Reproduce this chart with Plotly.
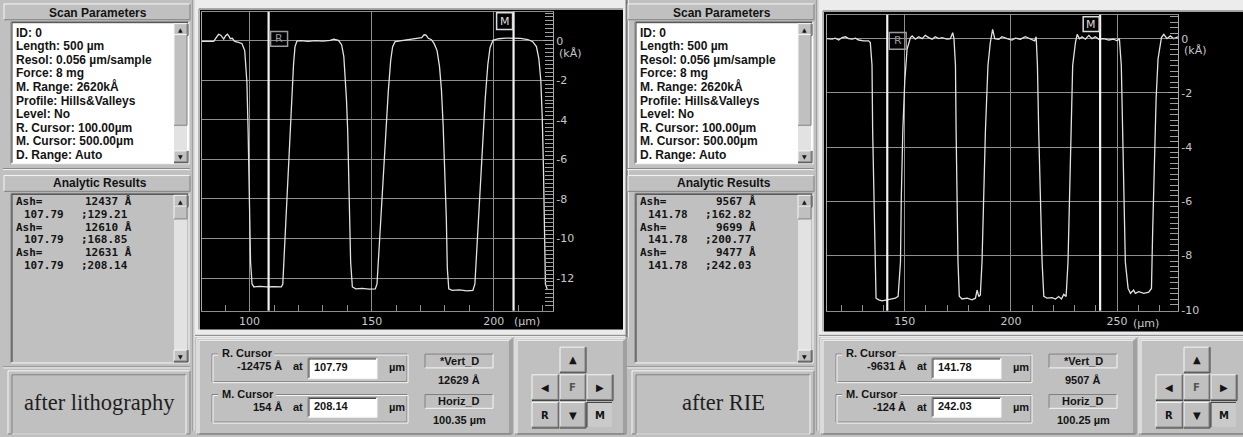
import plotly.graph_objects as go

W, H = 1243, 437

# ------------------------------------------------------------------ data
# profile after lithography (x in um, height in kA)
P1_X = [80.5, 83.0, 85.3, 86.3, 87.3, 88.2, 89.4, 90.2, 90.9, 91.6, 92.1, 92.9, 93.9, 95.5, 96.9,
        98.0, 98.9, 99.4, 99.9, 100.4, 101.0, 101.8, 104.0, 107.0, 110.0, 113.0,
        113.6, 114.4, 115.3, 116.3, 117.2, 118.0, 118.6, 119.4, 121.0, 124.0, 127.0, 130.0, 133.0,
        134.5, 136.4, 137.7, 138.6, 139.2, 139.7, 140.2, 140.9, 141.4, 142.1, 143.5, 146.0, 149.0,
        151.5, 152.2, 153.2, 154.4, 155.6, 156.8, 157.8, 158.6, 159.6, 162.0, 165.0, 168.0, 170.5,
        171.5, 172.3, 173.2, 174.5, 175.6, 176.8, 177.8, 178.6, 179.3, 180.0, 180.6, 181.0, 181.6,
        183.0, 186.0, 189.0, 191.5, 192.3, 193.2, 194.3, 195.4, 196.5, 197.6, 198.5, 199.7, 202.0,
        205.0, 208.0, 211.0, 214.0, 216.0, 217.5, 218.5, 219.3, 219.9, 220.4, 220.8, 221.2, 222.0]
P1_Y = [-0.03, -0.02, -0.03, 0.15, 0.32, 0.28, 0.08, 0.25, 0.33, 0.22, 0.10, 0.12, -0.03, -0.08, -0.15,
        -0.5, -2.1, -4.6, -7.9, -11.2, -12.3, -12.45, -12.42, -12.45, -12.43, -12.45,
        -12.3, -10.5, -8.0, -5.5, -3.0, -1.2, -0.3, -0.02, 0.0, -0.03, 0.0, -0.02, 0.02,
        0.08, 0.02, -0.2, -0.8, -1.8, -3.0, -4.6, -7.9, -11.2, -12.45, -12.55, -12.52, -12.56,
        -12.55, -12.3, -10.2, -7.6, -5.0, -2.6, -1.0, -0.3, -0.05, 0.0, 0.05, 0.10, 0.15,
        0.30, 0.28, 0.12, 0.05, -0.15, -0.5, -1.3, -2.5, -4.3, -6.5, -9.0, -11.5, -12.55,
        -12.62, -12.6, -12.65, -12.62, -12.3, -10.3, -7.8, -5.3, -3.0, -1.2, -0.35, 0.02, 0.10,
        0.13, 0.14, 0.12, 0.06, -0.05, -0.3, -0.9, -2.0, -3.9, -6.5, -9.5, -12.3, -12.6]

# profile after RIE
P2_X = [113.4, 115.8, 117.3, 118.9, 120.5, 122.1, 123.6, 125.2, 126.8, 128.3, 130.7, 133.0, 133.8,
        134.6, 134.9, 135.4, 135.9, 136.5, 137.8, 139.3, 141.7, 144.0, 145.6, 146.9,
        148.0, 148.4, 149.1, 150.0, 151.1, 152.7, 153.5, 155.0, 156.6, 158.2, 159.7, 161.3, 162.9,
        164.4, 166.0, 167.6, 169.9, 171.5, 172.6, 173.2,
        173.9, 174.2, 174.6, 175.1, 175.7, 177.0, 179.4, 181.7, 183.3, 184.1, 184.9, 185.6,
        186.4, 187.2, 188.0, 189.2, 190.3, 191.4, 192.4, 194.3, 195.8, 198.2, 200.5, 202.1, 204.5,
        206.8, 209.2, 211.2, 211.9,
        212.5, 213.1, 213.9, 214.7, 215.5, 217.0, 219.4, 221.0, 222.5, 223.8, 224.9, 226.0,
        226.9, 227.6, 228.2, 229.1, 230.4, 231.2, 232.3, 233.5, 235.1, 236.7, 238.2, 239.8, 241.4,
        243.7, 246.1, 248.4, 250.0, 251.1,
        252.0, 252.7, 253.3, 253.9, 255.2, 256.3, 257.8, 258.6, 260.2, 262.6, 264.9, 266.2,
        266.8, 267.7, 268.4, 269.3, 270.9, 272.0, 273.5, 275.1, 276.7, 278.7]
P2_Y = [0.0, -0.02, 0.02, -0.05, 0.04, 0.07, 0.0, -0.02, 0.02, -0.05, -0.08, -0.08, -0.14,
        -0.99, -3.4, -5.8, -8.2, -9.57, -9.63, -9.67, -9.63, -9.6, -9.57, -9.5,
        -8.24, -5.82, -3.41, -1.6, -0.39, 0.04, 0.10, -0.02, 0.07, 0.0, 0.12, 0.04, -0.02,
        0.07, 0.0, 0.04, -0.02, 0.0, 0.22, 0.0,
        -0.99, -3.4, -5.8, -8.24, -9.5, -9.6, -9.57, -9.63, -9.57, -9.27, -9.51, -9.45,
        -8.24, -5.82, -3.41, -0.99, -0.15, 0.34, 0.0, -0.02, 0.07, 0.0, -0.05, 0.02, -0.02,
        0.07, 0.0, -0.08, 0.07,
        -0.99, -3.41, -5.82, -8.24, -9.5, -9.57, -9.55, -9.6, -9.51, -9.6, -9.43, -9.51,
        -8.24, -5.82, -3.41, -0.99, -0.15, 0.16, 0.0, 0.07, -0.02, 0.12, 0.0, 0.07, -0.02,
        0.0, -0.05, -0.02, -0.08, 0.0,
        -0.99, -3.41, -5.82, -8.24, -9.21, -9.39, -9.27, -9.39, -9.33, -9.39, -9.35, -9.21,
        -7.0, -4.6, -2.2, -0.75, 0.04, 0.16, 0.0, 0.10, 0.0, 0.07]

CURSOR_R = [107.79, 141.78]
CURSOR_M = [208.14, 242.03]
X_TICKS = [[100, 150, 200], [150, 200, 250]]
Y_TICKS = [[0, -2, -4, -6, -8, -10, -12], [0, -2, -4, -6, -8, -10]]
X_RANGE = [[80.5, 224.3], [113.4, 278.7]]
Y_RANGE = [[-13.65, 1.46], [-10.03, 0.88]]

SCAN_PARAMS = ["ID: 0", "Length: 500 µm", "Resol: 0.056 µm/sample", "Force: 8 mg",
               "M. Range: 2620kÅ", "Profile: Hills&amp;Valleys", "Level: No",
               "R. Cursor: 100.00µm", "M. Cursor: 500.00µm", "D. Range: Auto"]
ASH = [["12437 Å", "12610 Å", "12631 Å"], ["9567 Å", "9699 Å", "9477 Å"]]
ASH_FROM = [["107.79", "107.79", "107.79"], ["141.78", "141.78", "141.78"]]
ASH_TO = [[";129.21", ";168.85", ";208.14"], [";162.82", ";200.77", ";242.03"]]
R_VAL = ["-12475 Å", "-9631 Å"]
M_VAL = ["154 Å", "-124 Å"]
VERT_D = ["12629 Å", "9507 Å"]
HORIZ_D = ["100.35 µm", "100.25 µm"]
CAPTION = ["after lithography", "after RIE"]

# ------------------------------------------------------------------ helpers
FACE = '#c0c0c0'
LIGHT = '#f6f6f6'
DARK = '#808080'
DARKER = '#3c3c3c'
GRID = '#8e8e8e'
TICKTXT = '#c8c8c8'

shapes, annots = [], []


def X(p):
    return p / W


def Y(p):
    return 1 - p / H


def rect(x0, y0, x1, y1, fill, line=None, lw=1, layer='above'):
    shapes.append(dict(type='rect', xref='paper', yref='paper', x0=X(x0), x1=X(x1),
                       y0=Y(y1), y1=Y(y0), fillcolor=fill, layer=layer,
                       line=dict(width=lw if line else 0, color=line or 'rgba(0,0,0,0)')))


def seg(x0, y0, x1, y1, color, w=1, layer='above'):
    shapes.append(dict(type='line', xref='paper', yref='paper', x0=X(x0), x1=X(x1),
                       y0=Y(y0), y1=Y(y1), line=dict(color=color, width=w), layer=layer))


def bevel(x0, y0, x1, y1, raised=True, w=1):
    tl = LIGHT if raised else DARK
    br = DARK if raised else LIGHT
    seg(x0, y0, x1, y0, tl, w)
    seg(x0, y0, x0, y1, tl, w)
    seg(x0, y1, x1, y1, br, w)
    seg(x1, y0, x1, y1, br, w)


def etched(x0, y0, x1, y1):
    rect(x0, y0, x1, y1, 'rgba(0,0,0,0)', DARK, 1)
    rect(x0 + 1, y0 + 1, x1 + 1, y1 + 1, 'rgba(0,0,0,0)', LIGHT, 1)


def txt(x, y, s, size=11, color='#141414', anchor='left', fam='Liberation Sans', bold=True):
    if bold:
        s = '<b>' + s + '</b>'
    annots.append(dict(xref='paper', yref='paper', x=X(x), y=Y(y), text=s, showarrow=False,
                       xanchor=anchor, yanchor='middle',
                       font=dict(size=size, color=color, family=fam)))


def button(x0, y0, x1, y1, glyph, gsize=9, gcolor='#141414', pressed=False):
    rect(x0, y0, x1, y1, FACE if not pressed else '#cacaca')
    if pressed:
        seg(x0, y0, x1, y0, DARKER)
        seg(x0, y0, x0, y1, DARKER)
    else:
        bevel(x0, y0, x1, y1, True)
        seg(x0, y1 + 1, x1 + 1, y1 + 1, DARKER)
        seg(x1 + 1, y0, x1 + 1, y1 + 1, DARKER)
    txt((x0 + x1) / 2, (y0 + y1) / 2 + 0.5, glyph, gsize, gcolor, 'center', 'DejaVu Sans', True)


def scrollbar(x0, y0, x1, y1, thumb0, thumb1):
    rect(x0, y0, x1, y1, '#e2e2e2')
    button(x0, y0, x1, y0 + 11, '▲', 6)
    rect(x0, thumb0, x1, thumb1, FACE)
    bevel(x0, thumb0, x1, thumb1, True)
    button(x0, y1 - 11, x1, y1, '▼', 6)


# ------------------------------------------------------------------ UI per group
def group(k):
    O = 624 * k
    # --- left column
    seg(O + 193, 0, O + 193, 437, DARK)
    seg(O + 194, 0, O + 194, 437, LIGHT)
    rect(O + 4, 4, O + 190, 20, FACE)
    bevel(O + 4, 4, O + 190, 20, True)
    txt(O + 98, 13, 'Scan Parameters', 12, anchor='center')
    rect(O + 11, 22, O + 189, 166, 'white')
    bevel(O + 11, 22, O + 189, 166, False)
    seg(O + 12, 23, O + 188, 23, DARKER)
    seg(O + 12, 23, O + 12, 165, DARKER)
    for i, s in enumerate(SCAN_PARAMS):
        txt(O + 14, 33 + i * 13.8, s, 12)
    scrollbar(O + 174, 24, O + 187, 164, 35, 127)
    seg(O + 3, 171, O + 190, 171, DARK)
    seg(O + 3, 172, O + 190, 172, LIGHT)
    rect(O + 4, 178, O + 190, 194, FACE)
    bevel(O + 4, 178, O + 190, 194, True)
    txt(O + 100, 186, 'Analytic Results', 12, anchor='center')
    rect(O + 11, 196, O + 189, 368, FACE)
    bevel(O + 11, 196, O + 189, 368, False)
    seg(O + 12, 197, O + 188, 197, DARKER)
    seg(O + 12, 197, O + 12, 367, DARKER)
    for i in range(3):
        yy = 204 + 26.2 * i
        txt(O + 14, yy, 'Ash=', 11, fam='DejaVu Sans Mono')
        txt(O + 134, yy, ASH[k][i], 11, anchor='right', fam='DejaVu Sans Mono')
        txt(O + 22, yy + 13.1, ASH_FROM[k][i], 11, fam='DejaVu Sans Mono')
        txt(O + 79, yy + 13.1, ASH_TO[k][i], 11, fam='DejaVu Sans Mono')
    scrollbar(O + 174, 198, O + 187, 366, 209, 222)
    seg(O + 3, 372, O + 190, 372, DARK)
    seg(O + 3, 373, O + 190, 373, LIGHT)
    rect(O + 8, 376, O + 190, 437, FACE)
    bevel(O + 8, 376, O + 190, 440, True)
    bevel(O + 12, 380, O + 186, 440, False)
    txt(O + 99, 408, CAPTION[k], 22.5, '#1e1e1e', 'center', 'Liberation Serif', False)

    # --- chart frame
    rect(O + 195, 0, O + 629, 342, '#ececec', layer='below')
    rect(O + 200, 10 + 2 * k, O + 623 + 30 * k, 334 + 2 * k, '#000000', layer='below')
    seg(O + 199, 9 + 2 * k, O + 623, 9 + 2 * k, DARK)
    seg(O + 199, 9 + 2 * k, O + 199, 334 + 2 * k, DARK)
    seg(O + 626, 0, O + 626, 342, DARK)
    seg(O + 627, 0, O + 627, 342, DARKER)
    seg(O + 195, 340, O + 627, 340, DARK)

    # --- cursor panel
    rect(O + 197, 343, O + 512, 437, FACE)
    bevel(O + 197, 343, O + 512, 440, True)
    bevel(O + 199, 345, O + 510, 440, True)
    etched(O + 212, 359, O + 407, 387)
    rect(O + 218, 353, O + 274, 365, FACE)
    txt(O + 220, 358, 'R. Cursor', 11)
    txt(O + 284, 371, R_VAL[k], 11, anchor='right')
    txt(O + 291, 371, 'at', 11)
    rect(O + 308, 363, O + 377, 384, 'white')
    bevel(O + 308, 363, O + 377, 384, False)
    seg(O + 309, 364, O + 376, 364, DARKER)
    seg(O + 309, 364, O + 309, 383, DARKER)
    txt(O + 312, 372, f'{CURSOR_R[k]:.2f}', 11)
    txt(O + 387, 372, 'µm', 11)
    etched(O + 212, 400, O + 407, 428)
    rect(O + 218, 393, O + 276, 405, FACE)
    txt(O + 220, 399, 'M. Cursor', 11)
    txt(O + 284, 413, M_VAL[k], 11, anchor='right')
    txt(O + 291, 413, 'at', 11)
    rect(O + 308, 403, O + 377, 423, 'white')
    bevel(O + 308, 403, O + 377, 423, False)
    seg(O + 309, 404, O + 376, 404, DARKER)
    seg(O + 309, 404, O + 309, 422, DARKER)
    txt(O + 312, 412, f'{CURSOR_M[k]:.2f}', 11)
    txt(O + 387, 413, 'µm', 11)
    bevel(O + 425, 359, O + 493, 373, False)
    txt(O + 459, 366, '*Vert_D', 11, anchor='center')
    txt(O + 459, 385, VERT_D[k], 11, anchor='center')
    bevel(O + 425, 400, O + 493, 414, False)
    txt(O + 459, 407, 'Horiz_D', 11, anchor='center')
    txt(O + 459, 426, HORIZ_D[k], 11, anchor='center')

    # --- navigation panel
    rect(O + 515, 343, O + 626, 437, FACE)
    bevel(O + 515, 343, O + 626, 440, True)
    bevel(O + 517, 345, O + 624, 440, True)
    button(O + 560, 352, O + 585, 377, '▲', 10)
    button(O + 532, 380, O + 558, 405, '◀', 10)
    button(O + 560, 380, O + 585, 405, 'F', 10, '#555555')
    button(O + 587, 380, O + 612, 405, '▶', 10)
    button(O + 532, 408, O + 558, 433, 'R', 10)
    button(O + 560, 408, O + 585, 433, '▼', 10)
    button(O + 587, 408, O + 612, 433, 'M', 10, pressed=True)


group(0)
group(1)

# ------------------------------------------------------------------ figure
fig = go.Figure()
fig.add_trace(go.Scatter(x=P1_X, y=P1_Y, mode='lines', line=dict(color='#e2e2e2', width=1.3),
                         xaxis='x', yaxis='y', hoverinfo='skip', showlegend=False))
fig.add_trace(go.Scatter(x=P2_X, y=P2_Y, mode='lines', line=dict(color='#e2e2e2', width=1.3),
                         xaxis='x2', yaxis='y2', hoverinfo='skip', showlegend=False))

PLOT_PX = [(202, 553, 12, 315), (827, 1178, 15, 315)]
PX_PER_UM = [2.447, 2.13]
axes = {}
for k in range(2):
    x0, x1, y0, y1 = PLOT_PX[k]
    sx = '' if k == 0 else '2'
    axes['xaxis' + sx] = dict(
        domain=[X(x0), X(x1)], range=X_RANGE[k], anchor='y' + sx,
        tickmode='array', tickvals=X_TICKS[k], ticktext=[str(t) for t in X_TICKS[k]],
        ticks='inside', ticklen=6, tickcolor=GRID, tickwidth=1,
        minor=dict(tickmode='linear', tick0=0, dtick=10, ticks='inside', ticklen=6,
                   tickcolor=GRID, showgrid=False),
        showgrid=True, gridcolor=GRID, gridwidth=1, zeroline=False,
        showline=True, linecolor=GRID, linewidth=1, mirror=True,
        tickfont=dict(family='DejaVu Sans', size=11, color=TICKTXT), fixedrange=True)
    axes['yaxis' + sx] = dict(
        domain=[Y(y1), Y(y0)], range=Y_RANGE[k], anchor='x' + sx, side='right',
        tickmode='array', tickvals=Y_TICKS[k], ticktext=[str(t) for t in Y_TICKS[k]],
        ticks='inside', ticklen=10, tickcolor='#a8a8a8', tickwidth=1,
        minor=dict(tickmode='linear', tick0=0, dtick=0.2, ticks='inside', ticklen=8,
                   tickcolor='#a0a0a0', tickwidth=1, showgrid=False),
        showgrid=True, gridcolor=GRID, gridwidth=1, zeroline=False,
        showline=True, linecolor='#a8a8a8', linewidth=1, mirror=True,
        tickfont=dict(family='DejaVu Sans', size=11, color=TICKTXT), fixedrange=True)

    # cursor lines and their R / M tags
    xr = 'x' + sx
    yd = 'y' + sx + ' domain'
    ppu = PX_PER_UM[k]
    for c in (CURSOR_R[k], CURSOR_M[k]):
        shapes.append(dict(type='line', xref=xr, yref=yd, x0=c, x1=c, y0=0, y1=1,
                           line=dict(color='#f2f2f2', width=2.2), layer='above'))
    rx0 = CURSOR_R[k] + 2 / ppu
    rx1 = CURSOR_R[k] + 19 / ppu
    ry0, ry1 = (32, 47) if k == 0 else (33, 50)
    shapes.append(dict(type='rect', xref=xr, yref='paper', x0=rx0, x1=rx1, y0=Y(ry1), y1=Y(ry0),
                       line=dict(color='#9a9a9a', width=1.5), fillcolor='rgba(0,0,0,0)'))
    annots.append(dict(xref=xr, yref='paper', x=(rx0 + rx1) / 2, y=Y((ry0 + ry1) / 2), text='R',
                       xanchor='center', yanchor='middle', showarrow=False,
                       font=dict(family='DejaVu Sans', size=11, color='#9a9a9a')))
    mx0 = CURSOR_M[k] - 17 / ppu
    mx1 = CURSOR_M[k] - 1 / ppu
    my0, my1 = (13, 30) if k == 0 else (17, 32)
    shapes.append(dict(type='rect', xref=xr, yref='paper', x0=mx0, x1=mx1, y0=Y(my1), y1=Y(my0),
                       line=dict(color='#dcdcdc', width=1.5), fillcolor='#000000'))
    annots.append(dict(xref=xr, yref='paper', x=(mx0 + mx1) / 2, y=Y((my0 + my1) / 2), text='M',
                       xanchor='center', yanchor='middle', showarrow=False,
                       font=dict(family='DejaVu Sans', size=11, color='#dcdcdc')))

# unit labels
txt(512, 326, '(µm)', 11, TICKTXT, 'left', 'DejaVu Sans', False)
txt(1131, 328, '(µm)', 11, TICKTXT, 'left', 'DejaVu Sans', False)
txt(557, 54, '(kÅ)', 11, TICKTXT, 'left', 'DejaVu Sans', False)
txt(1182, 51, '(kÅ)', 11, TICKTXT, 'left', 'DejaVu Sans', False)

fig.update_layout(
    width=W, height=H, margin=dict(l=0, r=0, t=0, b=0),
    paper_bgcolor=FACE, plot_bgcolor='#000000',
    shapes=shapes, annotations=annots, showlegend=False, **axes)

fig.write_html('out.html', config={'displayModeBar': False},
               post_script="document.body.style.margin='0';document.body.style.overflow='hidden';")
